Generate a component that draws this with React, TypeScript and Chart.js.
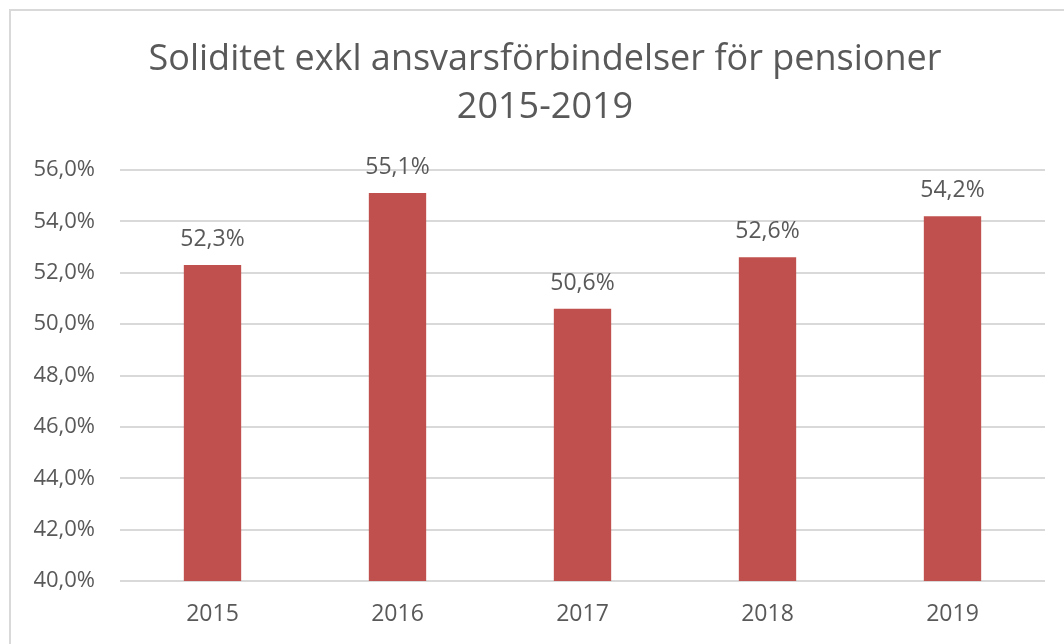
import React, { useEffect, useRef } from "react";
import { Chart, registerables } from "chart.js";

Chart.register(...registerables);

const categories = ["2015", "2016", "2017", "2018", "2019"];
const values = [52.3, 55.1, 50.6, 52.6, 54.2];
const titleLines = ["Soliditet exkl ansvarsförbindelser för pensioner", "2015-2019"];
const yMin = 40;
const yMax = 56;
const yStep = 2;

const FONT = "'Open Sans', 'Noto Sans', sans-serif";
const TEXT = "#595959";
const GRID = "#d9d9d9";
const BAR = "#c0504d";

const fmt = (v: number) => v.toFixed(1).replace(".", ",") + "%";

const framePlugin = {
  id: "frame",
  beforeDraw(chart: any) {
    const ctx = chart.ctx;
    ctx.save();
    ctx.fillStyle = "#ffffff";
    ctx.fillRect(0, 0, chart.width, chart.height);
    ctx.strokeStyle = GRID;
    ctx.lineWidth = 2;
    ctx.strokeRect(10, 10, 1071, 700);
    ctx.restore();
  },
};

const labelPlugin = {
  id: "barLabels",
  afterDatasetsDraw(chart: any) {
    const ctx = chart.ctx;
    const meta = chart.getDatasetMeta(0);
    ctx.save();
    ctx.font = `23px ${FONT}`;
    ctx.fillStyle = TEXT;
    ctx.textAlign = "center";
    ctx.textBaseline = "alphabetic";
    meta.data.forEach((bar: any, i: number) => {
      ctx.fillText(fmt(values[i]), bar.x, bar.y - 19);
    });
    ctx.restore();
  },
};

export default function App() {
  const ref = useRef<HTMLCanvasElement>(null);
  useEffect(() => {
    if (!ref.current) return;
    const chart = new Chart(ref.current, {
      type: "bar",
      data: {
        labels: categories,
        datasets: [
          {
            data: values,
            yAxisID: "y",
            backgroundColor: BAR,
            borderWidth: 0,
            categoryPercentage: 1,
            barPercentage: 0.31,
          },
        ],
      },
      options: {
        responsive: false,
        animation: false,
        layout: { padding: { left: 9, right: 19, top: 9, bottom: 0 } },
        plugins: {
          legend: { display: false },
          tooltip: { enabled: false },
          title: {
            display: true,
            text: titleLines,
            color: TEXT,
            font: { family: FONT, size: 36, weight: "normal", lineHeight: 48 / 36 },
            padding: { top: 27, bottom: 38 },
          },
        },
        scales: {
          x: {
            grid: { display: false, drawTicks: false },
            border: { display: false },
            ticks: { color: TEXT, font: { family: FONT, size: 23 }, padding: 20 },
            afterFit(scale: any) {
              scale.height = 63;
            },
          },
          y: {
            position: "left",
            min: yMin,
            max: yMax,
            grid: { color: GRID, lineWidth: 2, drawTicks: false },
            border: { display: false },
            ticks: {
              stepSize: yStep,
              color: TEXT,
              font: { family: FONT, size: 22 },
              padding: 25,
              callback: (v: any) => fmt(Number(v)),
            },
            afterFit(scale: any) {
              scale.width = 111;
            },
          },
          yRight: {
            position: "right",
            min: yMin,
            max: yMax,
            grid: { display: false, drawTicks: false },
            border: { display: false },
            ticks: { display: false },
            afterFit(scale: any) {
              scale.width = 36;
            },
          },
        },
      },
      plugins: [framePlugin, labelPlugin],
    });
    return () => chart.destroy();
  }, []);
  return (
    <div style={{ position: "fixed", left: 0, top: 0, width: 1064, height: 644, overflow: "hidden", background: "#fff" }}>
      <canvas ref={ref} width={1100} height={644} style={{ display: "block" }} />
    </div>
  );
}
